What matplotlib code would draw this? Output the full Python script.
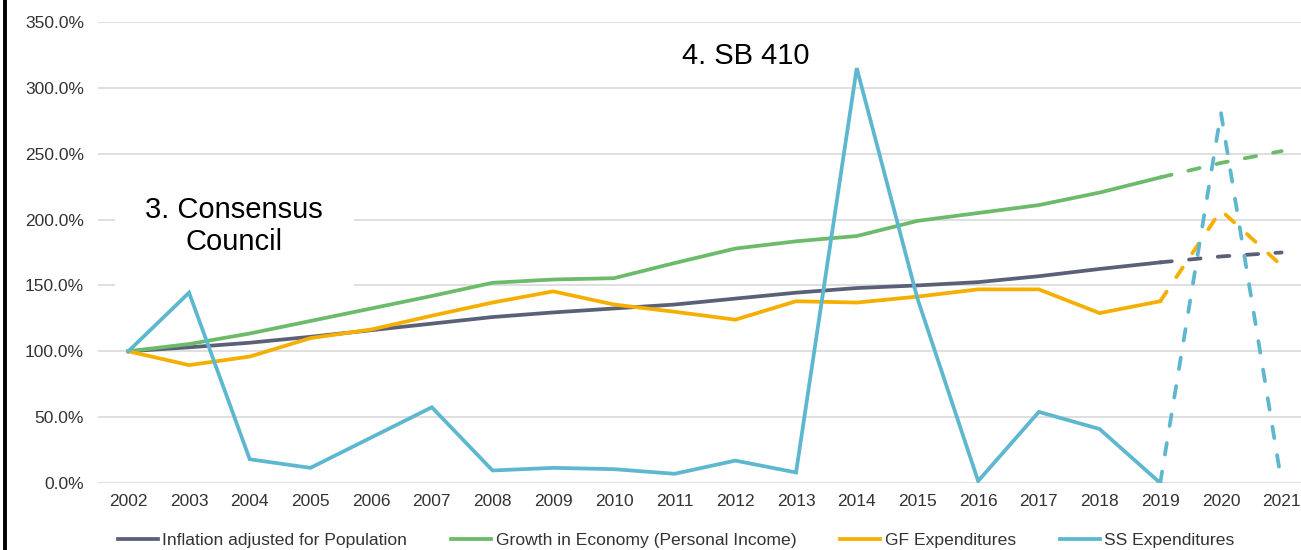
import matplotlib
matplotlib.use('Agg')
import matplotlib.pyplot as plt
from matplotlib.lines import Line2D
from matplotlib.ticker import FuncFormatter

years = [str(y) for y in range(2002, 2022)]
inflation = [100, 103, 106.5, 111, 116, 121, 126, 129.5, 132.5, 135.5, 140, 144.5, 148, 150, 152.5, 157, 162.5, 167.5, 172, 175]
growth = [100, 105.5, 113.5, 123, 132.5, 142, 152, 154.5, 155.5, 167, 178, 183.5, 187.5, 199, 205, 211, 220.5, 232, 243, 252]
gf = [100, 89.5, 96, 110, 116.5, 127, 137, 145.5, 135.5, 130, 124, 138, 137, 141.5, 147, 147, 129, 138, 207, 165]
ss = [100, 144.5, 18, 11.5, 34.5, 57.5, 9.5, 11.5, 10.5, 7, 17, 8, 315, 140, 1.5, 54, 41, 0, 281, 0]

labels = ['Inflation adjusted for Population', 'Growth in Economy (Personal Income)',
          'GF Expenditures', 'SS Expenditures']
colors = ['#5B6079', '#6BBB6B', '#F4AF00', '#5DB7CE']
last_actual = 17  # index of 2019, projections after that

plt.rcParams['font.family'] = ['Liberation Sans', 'DejaVu Sans']

fig = plt.figure(figsize=(13.01, 5.5), dpi=100)
W, H = 1301, 550
ax = fig.add_axes([98 / W, (H - 483) / H, (1312 - 98) / W, (483 - 22) / H])

x = list(range(len(years)))
handles = []
for series, col, lab in zip([inflation, growth, gf, ss], colors, labels):
    h, = ax.plot(x[:last_actual + 1], series[:last_actual + 1], color=col, lw=2.7,
                 solid_joinstyle='miter', label=lab, zorder=3)
    ax.plot(x[last_actual:], series[last_actual:], color=col, lw=2.7,
            linestyle=(0, (3.1, 4.6)), dash_capstyle='round', zorder=3)
    handles.append(h)

ax.set_xlim(-0.5, len(years) - 0.5)
ax.set_ylim(0, 350)
ax.set_yticks(range(0, 351, 50))
ax.yaxis.set_major_formatter(FuncFormatter(lambda v, p: '{:.1f}%'.format(v)))
ax.set_xticks(x)
ax.set_xticklabels(years)
ax.tick_params(axis='both', length=0, labelsize=12.5, labelcolor='#333333')
ax.tick_params(axis='y', pad=10)
ax.tick_params(axis='x', pad=8)
ax.grid(axis='y', color='#D9D9D9', lw=1.2)
ax.set_axisbelow(True)
for s in ax.spines.values():
    s.set_visible(False)

# annotations
ax.text(1.745, 195, '3. Consensus\nCouncil', fontsize=21, ha='center', va='center',
        linespacing=1.2, color='black', zorder=1,
        bbox=dict(facecolor='white', edgecolor='none', pad=22))
ax.text(10.17, 324, '4. SB 410', fontsize=21, ha='center', va='center', color='black')

fig.legend(handles=handles, loc='center', bbox_to_anchor=(676 / W, (H - 540) / H),
           ncol=4, frameon=False, fontsize=12.6, handlelength=2.3, handletextpad=0.25,
           columnspacing=2.5, labelcolor='#333333')

# left border
fig.add_artist(Line2D([5 / W, 5 / W], [0, 1], color='black', lw=2.8))

fig.savefig('out.png', dpi=100)
